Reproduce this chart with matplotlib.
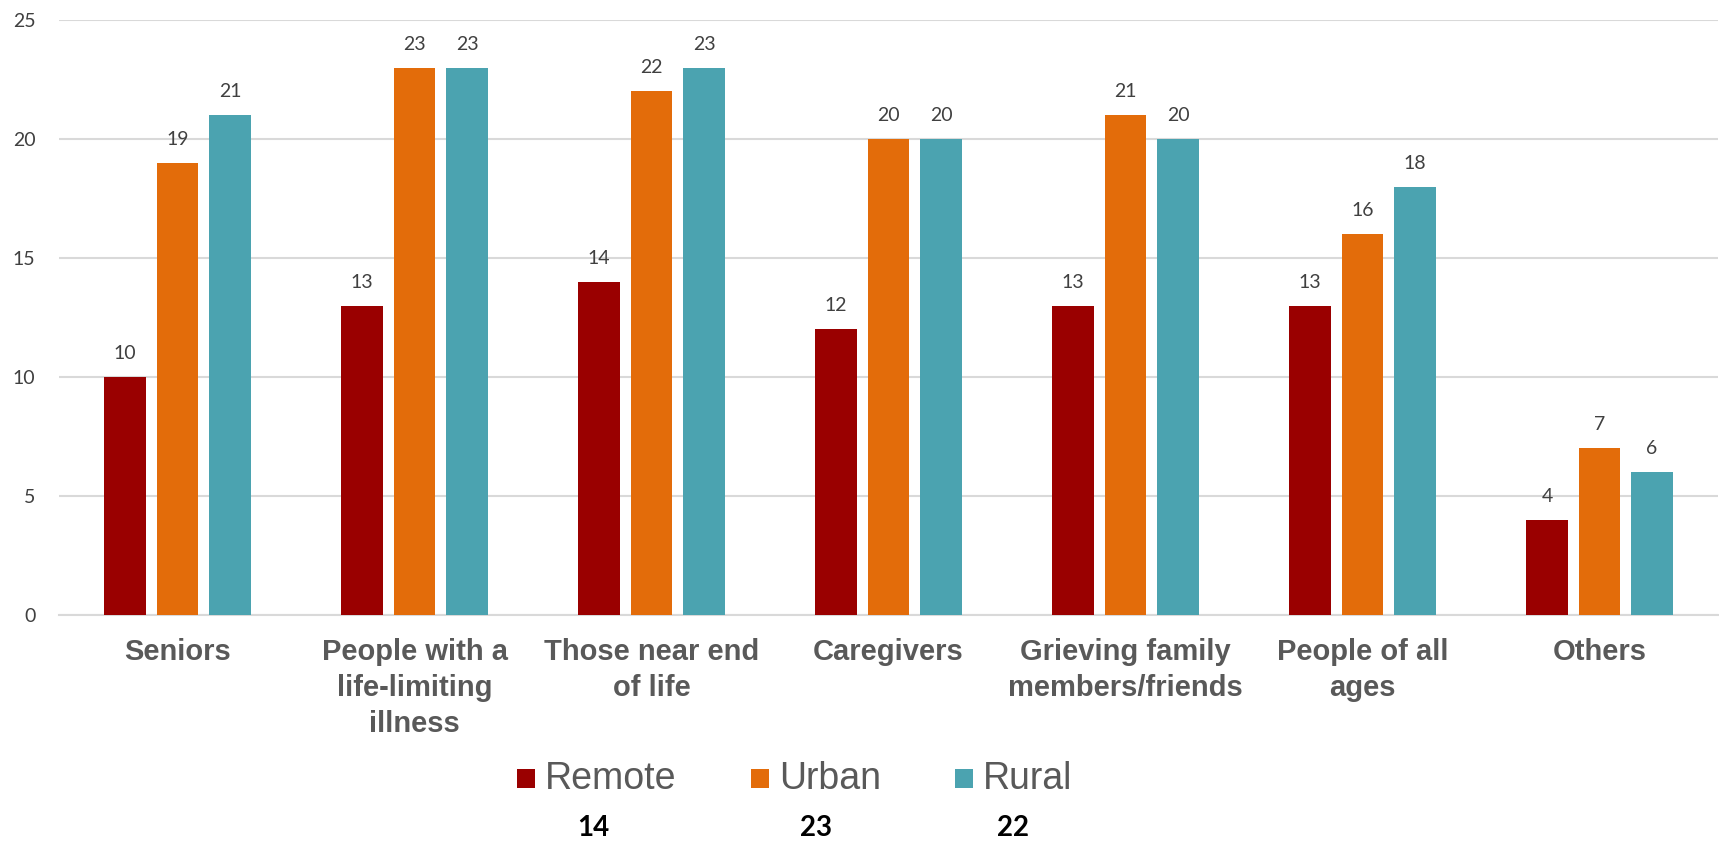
import matplotlib
matplotlib.use("Agg")
import matplotlib.pyplot as plt
from matplotlib.patches import Rectangle
import numpy as np

# data
categories = ["Seniors", "People with a\nlife-limiting\nillness", "Those near end\nof life",
              "Caregivers", "Grieving family\nmembers/friends", "People of all\nages", "Others"]
remote = [10, 13, 14, 12, 13, 13, 4]
urban = [19, 23, 22, 20, 21, 16, 7]
rural = [21, 23, 23, 20, 20, 18, 6]
series_names = ["Remote", "Urban", "Rural"]
series_totals = ["14", "23", "22"]
colors = ["#9A0000", "#E36C0A", "#4BA3B0"]

W, H = 1719, 841
fig = plt.figure(figsize=(W / 100, H / 100), dpi=100)
ax = fig.add_axes([59 / W, 1 - 615 / H, 1659 / W, 595 / H])

x = np.arange(len(categories))
width = 0.177
step = 0.2215
for i, (vals, col) in enumerate(zip([remote, urban, rural], colors)):
    bars = ax.bar(x + (i - 1) * step, vals, width, color=col, zorder=3)
    for b, v in zip(bars, vals):
        ax.annotate(str(v), (b.get_x() + b.get_width() / 2, v),
                    xytext=(0, 18), textcoords="offset pixels",
                    ha="center", va="baseline", fontsize=14,
                    family="Lato", color="#404040")

ax.set_xlim(-0.5, len(categories) - 0.5)
ax.set_ylim(0, 25)
ax.set_yticks(range(0, 26, 5))
ax.yaxis.grid(True, color="#D9D9D9", linewidth=1.5, zorder=0)
ax.set_axisbelow(True)
for s in ["top", "right", "left"]:
    ax.spines[s].set_visible(False)
ax.spines["bottom"].set_color("#D9D9D9")
ax.spines["bottom"].set_linewidth(1.5)
ax.tick_params(axis="both", length=0)
ax.tick_params(axis="y", pad=17)
for t in ax.get_yticklabels():
    t.set_fontsize(14)
    t.set_family("Lato")
    t.set_color("#404040")

ax.set_xticks(x)
ax.set_xticklabels(categories, fontsize=21, fontweight="bold", color="#595959",
                   family="Liberation Sans", linespacing=1.36, va="top")
ax.tick_params(axis="x", pad=16.5)

# legend, laid out by hand to match the reference spacing
legend_x = [517, 751, 955]
for lx, name, col in zip(legend_x, series_names, colors):
    fig.add_artist(Rectangle((lx / W, 1 - 788 / H), 18 / W, 19 / H,
                             facecolor=col, transform=fig.transFigure))
    fig.text((lx + 28) / W, 1 - 779 / H, name, ha="left", va="center",
             fontsize=27, family="Liberation Sans", color="#595959")

for tx, tot in zip([593, 816, 1013], series_totals):
    fig.text(tx / W, 1 - 828 / H, tot, ha="center", va="center",
             fontsize=20, fontweight="bold", family="Lato", color="black")

fig.savefig("out.png", dpi=100)
